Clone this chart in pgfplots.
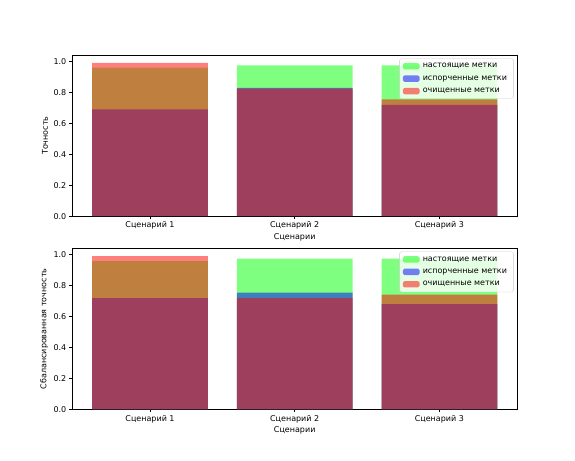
\documentclass[border=0pt]{standalone}
\usepackage{fontspec}
\setmainfont{DejaVu Sans}
\usepackage{pgfplots}
\pgfplotsset{compat=1.18}
\definecolor{limec}{rgb}{0,1,0}
\definecolor{bluec}{rgb}{0,0,1}
\definecolor{redc}{rgb}{1,0,0}
\definecolor{legedge}{RGB}{204,204,204}
\pgfplotsset{
  myax/.style={
    width=558pt, height=201.6pt, scale only axis,
    xmin=-0.54, xmax=2.54, ymin=0, ymax=1.041,
    ybar, bar width=0.8,
    xtick={0,1,2}, xticklabels={Сценарий 1,Сценарий 2,Сценарий 3},
    ytick={0,0.2,0.4,0.6,0.8,1.0},
    yticklabel style={/pgf/number format/.cd,fixed,fixed zerofill,precision=1},
    /pgf/number format/assume math mode=true,
    tick pos=left, tick align=outside,
    major tick length=3.5pt,
    major tick style={line width=0.8pt, black},
    axis line style={line width=0.8pt},
    xlabel={Сценарии},
    xlabel style={yshift=2pt},
    legend cell align=left,
    legend image code/.code={\fill[##1] (0pt,-4pt) rectangle (21pt,4pt);},
    legend style={at={(1,1)}, anchor=north east, xshift=-5pt, yshift=-4pt,
      draw=legedge, rounded corners=2pt, fill=white, fill opacity=0.8, text opacity=1,
      font=\fontsize{10}{12}\selectfont, row sep=4.5pt, inner xsep=4pt, inner ysep=4pt,
      nodes={inner xsep=4pt}},
  },
  gbar/.style={fill=limec, draw=none, fill opacity=0.5, bar shift=0pt},
  bbar/.style={fill=bluec, draw=none, fill opacity=0.5, bar shift=0pt},
  rbar/.style={fill=redc, draw=none, fill opacity=0.5, bar shift=0pt},
}
\begin{document}
\begin{tikzpicture}
\useasboundingbox (0,0) rectangle (720pt,576pt);
\begin{axis}[myax, at={(90pt,305.28pt)}, anchor=south west, ylabel={Точность}]
\addplot[gbar] coordinates {(0,0.96) (1,0.975) (2,0.975)};
\addplot[bbar] coordinates {(0,0.69) (1,0.83) (2,0.72)};
\addplot[rbar] coordinates {(0,0.992) (1,0.825) (2,0.756)};
\legend{настоящие метки, испорченные метки, очищенные метки}
\end{axis}
\begin{axis}[myax, at={(90pt,63.36pt)}, anchor=south west, ylabel={Сбалансированная точность}]
\addplot[gbar] coordinates {(0,0.959) (1,0.975) (2,0.975)};
\addplot[bbar] coordinates {(0,0.72) (1,0.755) (2,0.68)};
\addplot[rbar] coordinates {(0,0.991) (1,0.72) (2,0.742)};
\legend{настоящие метки, испорченные метки, очищенные метки}
\end{axis}
\end{tikzpicture}
\end{document}
